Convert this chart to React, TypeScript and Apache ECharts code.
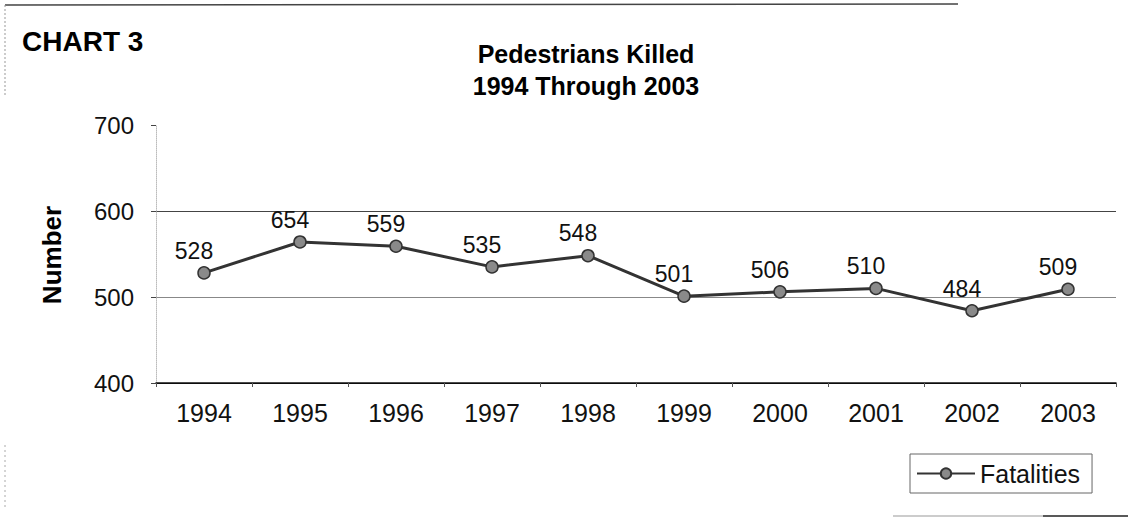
import React, { useEffect, useRef } from "react";
import * as echarts from "echarts";

const years = ["1994", "1995", "1996", "1997", "1998", "1999", "2000", "2001", "2002", "2003"];
const fatalities = [528, 564, 559, 535, 548, 501, 506, 510, 484, 509];
const labelTexts = ["528", "654", "559", "535", "548", "501", "506", "510", "484", "509"];
const yTicks = { min: 400, max: 700, interval: 100 };

const FONT = "'Liberation Sans', Arial, Helvetica, sans-serif";

export default function App() {
  const ref = useRef<HTMLDivElement>(null);
  useEffect(() => {
    if (!ref.current) return;
    const chart = echarts.init(ref.current, undefined, { renderer: "svg" });
    chart.setOption({
      animation: false,
      backgroundColor: "#ffffff",
      textStyle: { fontFamily: FONT },
      grid: { left: 156, right: 12, top: 125, bottom: 143, containLabel: false },
      xAxis: {
        type: "category",
        data: years,
        boundaryGap: true,
        axisLine: { show: true, lineStyle: { color: "#111", width: 1.5 } },
        axisTick: { show: true, length: 4, lineStyle: { color: "#555" } },
        axisLabel: { color: "#111", fontSize: 25, fontFamily: FONT, margin: 17 },
        splitLine: { show: false },
      },
      yAxis: {
        type: "value",
        min: yTicks.min,
        max: yTicks.max,
        interval: yTicks.interval,
        axisLine: { show: true, lineStyle: { color: "#bbb", type: "dotted", width: 1 } },
        axisTick: { show: true, length: 5, lineStyle: { color: "#444" } },
        axisLabel: { color: "#111", fontSize: 24, fontFamily: FONT, margin: 22 },
        splitLine: {
          show: true,
          lineStyle: { color: ["#000", "#888", "#444", "rgba(0,0,0,0)"], width: 1.2 },
        },
      },
      legend: {
        show: true,
        left: 910,
        top: 454,
        orient: "horizontal",
        itemWidth: 58,
        itemHeight: 13,
        itemGap: 5,
        padding: [7, 12, 7, 6],
        borderColor: "#666",
        borderWidth: 1,
        textStyle: { color: "#111", fontSize: 25, fontFamily: FONT },
        data: ["Fatalities"],
      },
      series: [
        {
          name: "Fatalities",
          type: "line",
          data: fatalities,
          symbol: "circle",
          symbolSize: 12,
          lineStyle: { color: "#333", width: 3 },
          itemStyle: { color: "#8a8a8a", borderColor: "#333", borderWidth: 1.5 },
          label: {
            show: true,
            position: "top",
            distance: 4,
            offset: [-10, 0],
            color: "#111",
            fontSize: 23,
            fontFamily: FONT,
            formatter: (p: any) => labelTexts[p.dataIndex],
          },
        },
      ],
      graphic: [
        {
          type: "text",
          x: 22,
          y: 41,
          style: {
            text: "CHART 3",
            fontSize: 28,
            fontWeight: "bold",
            fontFamily: FONT,
            fill: "#000",
            align: "left",
            verticalAlign: "middle",
          },
        },
        {
          type: "text",
          x: 586,
          y: 54,
          style: {
            text: "Pedestrians Killed",
            fontSize: 25,
            fontWeight: "bold",
            fontFamily: FONT,
            fill: "#000",
            align: "center",
            verticalAlign: "middle",
          },
        },
        {
          type: "text",
          x: 586,
          y: 86,
          style: {
            text: "1994 Through 2003",
            fontSize: 25,
            fontWeight: "bold",
            fontFamily: FONT,
            fill: "#000",
            align: "center",
            verticalAlign: "middle",
          },
        },
        {
          type: "text",
          x: 52,
          y: 255,
          rotation: Math.PI / 2,
          style: {
            text: "Number",
            fontSize: 26,
            fontWeight: "bold",
            fontFamily: FONT,
            fill: "#000",
            align: "center",
            verticalAlign: "middle",
          },
        },
        {
          type: "line",
          shape: { x1: 5, y1: 5, x2: 958, y2: 4 },
          style: { stroke: "#444", lineWidth: 1.5 },
        },
        {
          type: "line",
          shape: { x1: 5, y1: 5, x2: 5, y2: 95 },
          style: { stroke: "#999", lineWidth: 1, lineDash: [2, 2] },
        },
        {
          type: "line",
          shape: { x1: 5, y1: 445, x2: 5, y2: 510 },
          style: { stroke: "#aaa", lineWidth: 1, lineDash: [2, 3] },
        },
        {
          type: "line",
          shape: { x1: 893, y1: 516, x2: 1043, y2: 516 },
          style: { stroke: "#999", lineWidth: 1.2 },
        },
        {
          type: "line",
          shape: { x1: 1043, y1: 516, x2: 1128, y2: 516 },
          style: { stroke: "#222", lineWidth: 1.5 },
        },
      ],
    });
    return () => chart.dispose();
  }, []);
  return (
    <div
      ref={ref}
      style={{ position: "fixed", left: 0, top: 0, width: 1128, height: 526, background: "#fff" }}
    />
  );
}
